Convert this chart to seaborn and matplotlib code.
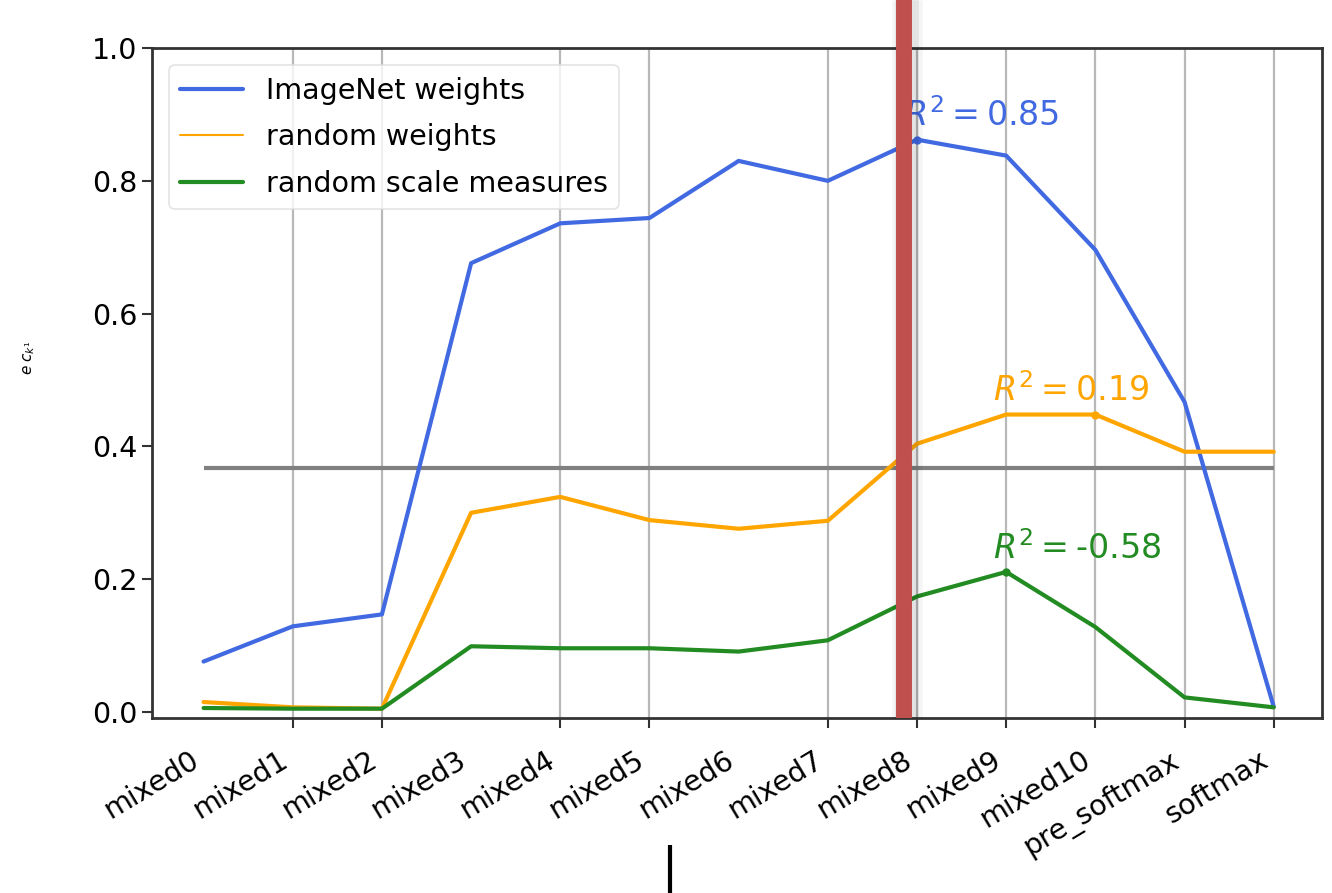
import numpy as np
import pandas as pd
import matplotlib
matplotlib.use("Agg")
import matplotlib.pyplot as plt
from matplotlib.lines import Line2D
import seaborn as sns

# Layers of the network along the x axis
layers = ["mixed0", "mixed1", "mixed2", "mixed3", "mixed4", "mixed5", "mixed6",
          "mixed7", "mixed8", "mixed9", "mixed10", "pre_softmax", "softmax"]

# Score per layer for each setting
imagenet_weights = [0.076, 0.129, 0.147, 0.676, 0.736, 0.744, 0.830,
                    0.800, 0.862, 0.838, 0.696, 0.467, 0.008]
random_weights = [0.015, 0.007, 0.005, 0.300, 0.324, 0.289, 0.276,
                  0.288, 0.404, 0.448, 0.448, 0.392, 0.392]
random_scale = [0.006, 0.005, 0.005, 0.099, 0.096, 0.096, 0.091,
                0.108, 0.174, 0.211, 0.128, 0.022, 0.007]

series_names = ["ImageNet weights", "random weights", "random scale measures"]
series_colors = ["#4169e1", "#ffa500", "#228b22"]

# R^2 of each setting, the layer that is marked, and the layer where the text sits
r2_labels = [r"$R^2 = 0.85$", r"$R^2 = 0.19$", r"$R^2 = $-$0.58$"]
marked_layer = [8, 10, 9]
label_layer = [8, 9, 9]

# Reference level 1/e
baseline = 1 / np.e

# Layers that carry a tick mark and a grid line
ruled_layers = [1, 2, 4, 5, 7, 8, 9, 10, 11, 12]

values = [imagenet_weights, random_weights, random_scale]
pos = np.arange(len(layers))
df = pd.DataFrame({
    "pos": np.tile(pos, len(series_names)),
    "value": np.concatenate(values),
    "series": np.repeat(series_names, len(layers)),
})

sns.set_theme(style="white")
plt.rcParams["font.family"] = ["DejaVu Sans"]
plt.rcParams["text.color"] = "black"
plt.rcParams["xtick.color"] = "black"
plt.rcParams["ytick.color"] = "black"

fig = plt.figure(figsize=(13.32, 8.93), dpi=100)
ax = fig.add_axes([0.114, 0.196, 0.8784, 0.7502])

sns.lineplot(data=df, x="pos", y="value", hue="series", hue_order=series_names,
             palette=series_colors, linewidth=3.0, ax=ax, legend=True)

ax.hlines(baseline, pos[0], pos[-1], color="#808080", linewidth=3.0, zorder=1)

for vals, col, lab, mi, li in zip(values, series_colors, r2_labels,
                                  marked_layer, label_layer):
    ax.plot(pos[mi], vals[mi], "o", color=col, markersize=5, zorder=4)
    ax.text(pos[li] - 0.15, vals[mi] + 0.02, lab, color=col, fontsize=24)

ax.set_xlim(-0.58, 12.54)
ax.set_ylim(-0.009, 1.0)
ax.xaxis.remove_overlapping_locs = False
ax.set_xticks(pos)
ax.set_xticklabels(layers, rotation=31, ha="right", fontsize=20.5)
ax.set_xticks(ruled_layers, minor=True)
ax.tick_params(axis="x", which="major", length=0, pad=20)
ax.tick_params(axis="x", which="minor", length=7, width=1.5, color="#333333",
               bottom=True, direction="out")
ax.grid(False)
ax.grid(True, axis="x", which="minor", color="#b8b8b8", linewidth=1.6)
ax.set_yticks(np.arange(0, 1.01, 0.2))
ax.set_yticklabels([f"{v:.1f}" for v in np.arange(0, 1.01, 0.2)], fontsize=20.5)
ax.tick_params(axis="y", length=7, width=1.5, color="#333333", left=True,
               direction="out")
for sp in ax.spines.values():
    sp.set_color("#333333")
    sp.set_linewidth(2.0)
ax.set_xlabel("")
ax.set_ylabel("")

fig.text(0.022, 0.60, r"$e\;c_{k^{1}}$", rotation=90, fontsize=11,
         ha="center", va="center")

leg = ax.legend(loc="upper left", fontsize=20.5, frameon=True, handlelength=2.2,
                labelspacing=0.65, borderaxespad=0.6, edgecolor="#dddddd",
                fancybox=True)
leg.get_frame().set_linewidth(1.2)
for line, lw in zip(leg.get_lines(), [3.0, 1.5, 3.0]):
    line.set_linewidth(lw)

# Vertical marker bar with a soft shadow, and a short stroke below the chart
bar_x = 904 / 1332
for w, a in [(22, 0.04), (17, 0.07)]:
    fig.add_artist(Line2D([bar_x + 0.002, bar_x + 0.002], [0.196, 1.0],
                          transform=fig.transFigure, color="black",
                          linewidth=w, alpha=a, solid_capstyle="butt"))
fig.add_artist(Line2D([bar_x, bar_x], [0.196, 1.0], transform=fig.transFigure,
                      color="#c0504d", linewidth=11.5, solid_capstyle="butt"))
fig.add_artist(Line2D([0.503, 0.503], [0.0, 0.054], transform=fig.transFigure,
                      color="black", linewidth=3, solid_capstyle="butt"))

fig.savefig("out.png", dpi=100)
